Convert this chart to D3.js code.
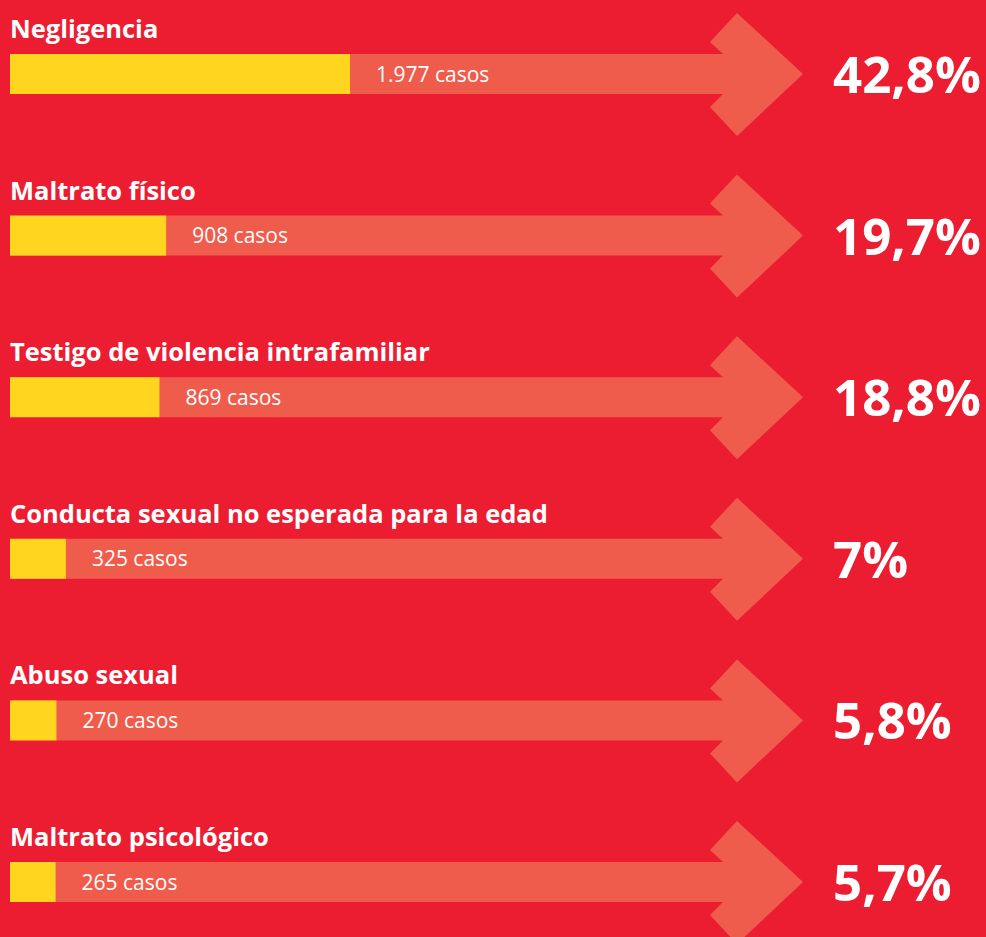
<!DOCTYPE html>
<html>
<head>
<meta charset="utf-8">
<script src="https://cdn.jsdelivr.net/npm/d3@7"></script>
<style>
  html, body { margin: 0; padding: 0; background: #ED1D31; }
  svg { display: block; }
</style>
</head>
<body>
<svg id="chart" width="986" height="937"></svg>
<script>
// Tipos de maltrato infantil: casos y porcentaje del total
const categories = [
  "Negligencia",
  "Maltrato físico",
  "Testigo de violencia intrafamiliar",
  "Conducta sexual no esperada para la edad",
  "Abuso sexual",
  "Maltrato psicológico"
];
const cases = [1977, 908, 869, 325, 270, 265];
const caseLabels = ["1.977 casos", "908 casos", "869 casos", "325 casos", "270 casos", "265 casos"];
const percentLabels = ["42,8%", "19,7%", "18,8%", "7%", "5,8%", "5,7%"];

const W = 986, H = 937;
const colors = { bg: "#ED1D31", arrow: "#F05C4C", bar: "#FFD51F", text: "#FFFFFF" };

const svg = d3.select("#chart");
svg.append("rect").attr("width", W).attr("height", H).attr("fill", colors.bg);

const rows = categories.map((c, i) => ({
  category: c, cases: cases[i], caseLabel: caseLabels[i], pct: percentLabels[i]
}));

// one band per category, stacked top to bottom
const y = d3.scaleBand().domain(categories).range([0, 969.6]).paddingInner(0);
// bar length proportional to number of cases
const x = d3.scaleLinear().domain([0, d3.max(cases)]).range([10, 350]);

const barTop = 54, barH = 40;
const mid = barTop + barH / 2;

// arrow outline: shaft plus chevron head, relative to the row
const arrowPath = () => {
  const p = d3.path();
  p.moveTo(10, barTop);
  p.lineTo(723, barTop);
  p.lineTo(710, barTop - 12);
  p.lineTo(737, barTop - 41);
  p.lineTo(803, mid);
  p.lineTo(737, barTop + barH + 42);
  p.lineTo(710, barTop + barH + 13);
  p.lineTo(723, barTop + barH);
  p.lineTo(10, barTop + barH);
  p.closePath();
  return p.toString();
};

const g = svg.selectAll("g.row").data(rows).join("g")
  .attr("class", "row")
  .attr("transform", d => `translate(0,${y(d.category)})`);

g.append("path").attr("d", arrowPath).attr("fill", colors.arrow);

g.append("rect")
  .attr("x", x(0)).attr("y", barTop)
  .attr("width", d => x(d.cases) - x(0)).attr("height", barH)
  .attr("fill", colors.bar);

g.append("text")
  .attr("x", 10).attr("y", 38)
  .attr("fill", colors.text)
  .style("font-family", "'Open Sans', sans-serif")
  .style("font-weight", 700).style("font-size", "25.5px")
  .text(d => d.category);

g.append("text")
  .attr("x", d => x(d.cases) + 26).attr("y", mid + 7.5)
  .attr("fill", colors.text)
  .style("font-family", "'Open Sans', sans-serif")
  .style("font-weight", 400).style("font-size", "21px")
  .text(d => d.caseLabel);

g.append("text")
  .attr("x", 833).attr("y", 93)
  .attr("fill", colors.text)
  .style("font-family", "'Open Sans', sans-serif")
  .style("font-weight", 700).style("font-size", "51px")
  .text(d => d.pct);
</script>
</body>
</html>
